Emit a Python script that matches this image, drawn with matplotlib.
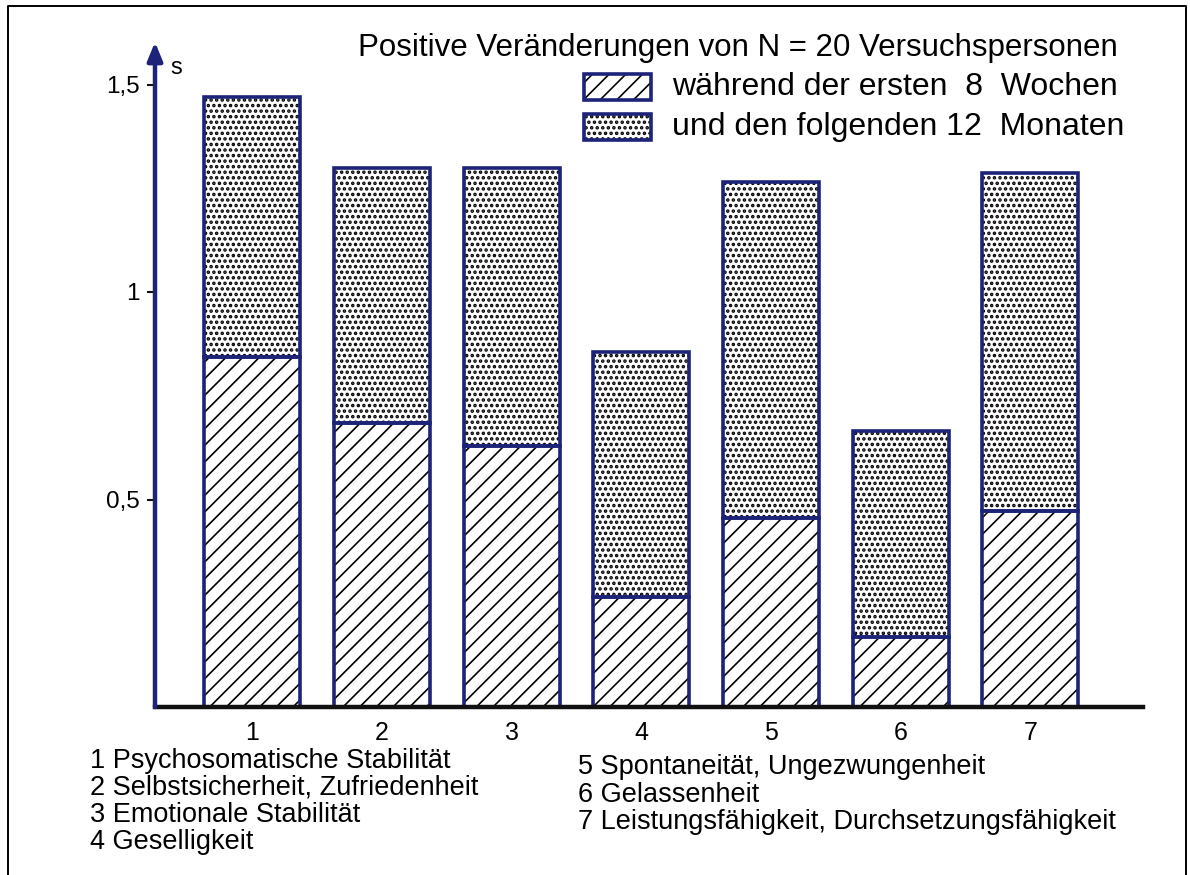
import matplotlib
matplotlib.use("Agg")
import matplotlib.pyplot as plt
from matplotlib.patches import Rectangle
from matplotlib.lines import Line2D

plt.rcParams["font.family"] = ["Liberation Sans", "DejaVu Sans"]
plt.rcParams["hatch.linewidth"] = 1.2

navy = "#1d2378"

# data
categories = ["1", "2", "3", "4", "5", "6", "7"]
first_8_weeks = [0.843, 0.684, 0.629, 0.265, 0.455, 0.169, 0.472]
next_12_months = [0.627, 0.615, 0.671, 0.590, 0.810, 0.496, 0.815]
ytick_values = [0.5, 1.0, 1.5]
ytick_labels = ["0,5", "1", "1,5"]
item_names_left = [
    "1 Psychosomatische Stabilität",
    "2 Selbstsicherheit, Zufriedenheit",
    "3 Emotionale Stabilität",
    "4 Geselligkeit",
]
item_names_right = [
    "5 Spontaneität, Ungezwungenheit",
    "6 Gelassenheit",
    "7 Leistungsfähigkeit, Durchsetzungsfähigkeit",
]

DOT_LW = 1.7


def dotted(patches):
    # thicker hatch line makes the small dots look like the printed raster
    for p in patches:
        if hasattr(p, "set_hatch_linewidth"):
            p.set_hatch_linewidth(DOT_LW)


W, H = 1190, 875
fig = plt.figure(figsize=(W / 100, H / 100), dpi=100)

x0, x1 = 155, 1143
y0, y1 = 707, 42
ax = fig.add_axes([x0 / W, 1 - y0 / H, (x1 - x0) / W, (y0 - y1) / H])
xs = list(range(1, len(categories) + 1))
ax.set_xlim(0.25, 7.87)
ax.set_ylim(0, (y0 - y1) / 415)
width = 0.74

# hatch layers (black pattern), then navy outlines on top
ax.bar(xs, first_8_weeks, width, color="white", edgecolor="black",
       hatch="//", linewidth=0)
with plt.rc_context({"hatch.linewidth": DOT_LW}):
    dots = ax.bar(xs, next_12_months, width, bottom=first_8_weeks, color="white",
                  edgecolor="black", hatch="...", linewidth=0)
dotted(dots)
ax.bar(xs, first_8_weeks, width, fill=False, edgecolor=navy, linewidth=2.6)
ax.bar(xs, next_12_months, width, bottom=first_8_weeks, fill=False,
       edgecolor=navy, linewidth=2.6)

for s in ax.spines.values():
    s.set_visible(False)
ax.axhline(0, color="#111111", lw=3.2, zorder=5, clip_on=False)
ax.annotate("", xy=(0.25, ax.get_ylim()[1]), xytext=(0.25, 0),
            arrowprops=dict(arrowstyle="-|>,head_length=1.1,head_width=0.45",
                            color=navy, lw=3.2, shrinkA=0, shrinkB=0),
            annotation_clip=False, zorder=6)

ax.set_yticks(ytick_values)
ax.set_yticklabels(ytick_labels, fontsize=17.5)
ax.tick_params(axis="y", length=6, width=1.5, color="#111111", pad=5)
ax.set_xticks(xs)
ax.set_xticklabels(categories, fontsize=18)
ax.tick_params(axis="x", length=0, pad=10)
ax.text(0.37, 1.54, "s", fontsize=17, ha="left", va="center")

# title and legend
fig.text(1118 / W, 1 - 48 / H, "Positive Veränderungen von N = 20 Versuchspersonen",
         fontsize=22.5, ha="right", va="center")
legend_rows = [("//", "während der ersten  8  Wochen", 87),
               ("...", "und den folgenden 12  Monaten", 127)]
for hatch, label, yc in legend_rows:
    with plt.rc_context({"hatch.linewidth": DOT_LW if hatch == "..." else 1.2}):
        r = Rectangle((584 / W, 1 - (yc + 13) / H), 67 / W, 26 / H,
                      transform=fig.transFigure, facecolor="white",
                      edgecolor="black", hatch=hatch, linewidth=0)
    if hatch == "...":
        dotted([r])
    fig.patches.append(r)
    fig.patches.append(Rectangle((584 / W, 1 - (yc + 13) / H), 67 / W, 26 / H,
                                 transform=fig.transFigure, fill=False,
                                 edgecolor=navy, linewidth=2.6))
    fig.text(672 / W, 1 - yc / H, label, fontsize=23, ha="left", va="center")

# item descriptions
for i, name in enumerate(item_names_left):
    fig.text(90 / W, 1 - (761 + 27 * i) / H, name, fontsize=19.5, va="center")
for i, name in enumerate(item_names_right):
    fig.text(578 / W, 1 - (767 + 27.5 * i) / H, name, fontsize=19.5, va="center")

# page frame
fig.add_artist(Line2D([8 / W, 8 / W, 1186 / W, 1186 / W],
                      [0, 1 - 6 / H, 1 - 6 / H, 0],
                      transform=fig.transFigure, color="black", lw=1.4))

fig.savefig("out.png", dpi=100)
